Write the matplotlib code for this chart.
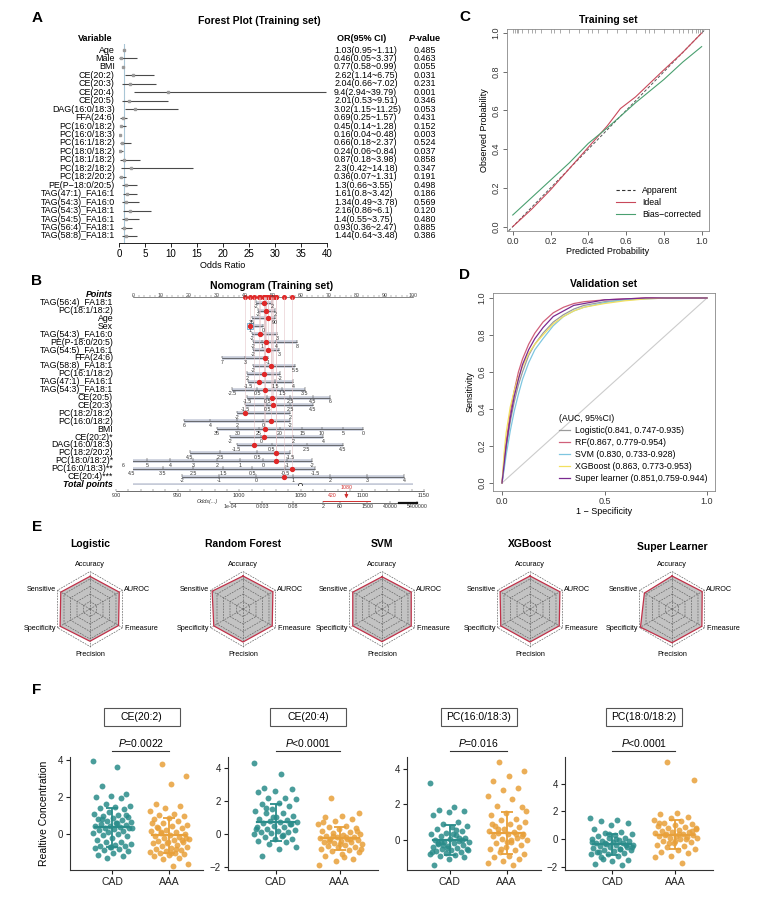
import numpy as np
import matplotlib
matplotlib.use("Agg")
import matplotlib.pyplot as plt
from matplotlib.lines import Line2D
from matplotlib.patches import Rectangle
from matplotlib.transforms import blended_transform_factory

plt.rcParams['font.family'] = ['Liberation Sans', 'DejaVu Sans']
plt.rcParams['mathtext.fontset'] = 'custom'
plt.rcParams['mathtext.rm'] = 'Liberation Sans'
plt.rcParams['mathtext.it'] = 'Liberation Sans:italic'
plt.rcParams['axes.linewidth'] = 0.6

# ---------------- data ----------------
# A: forest plot
fa_vars = ['Age', 'Male', 'BMI', 'CE(20:2)', 'CE(20:3)', 'CE(20:4)', 'CE(20:5)',
           'DAG(16:0/18:3)', 'FFA(24:6)', 'PC(16:0/18:2)', 'PC(16:0/18:3)',
           'PC(16:1/18:2)', 'PC(18:0/18:2)', 'PC(18:1/18:2)', 'PC(18:2/18:2)',
           'PC(18:2/20:2)', 'PE(P\u221218:0/20:5)', 'TAG(47:1)_FA16:1',
           'TAG(54:3)_FA16:0', 'TAG(54:3)_FA18:1', 'TAG(54:5)_FA16:1',
           'TAG(56:4)_FA18:1', 'TAG(58:8)_FA18:1']
fa_or = [1.03, 0.46, 0.77, 2.62, 2.04, 9.4, 2.01, 3.02, 0.69, 0.45, 0.16, 0.66,
         0.24, 0.87, 2.3, 0.36, 1.3, 1.61, 1.34, 2.16, 1.4, 0.93, 1.44]
fa_lo = [0.95, 0.05, 0.58, 1.14, 0.66, 2.94, 0.53, 1.15, 0.25, 0.14, 0.04, 0.18,
         0.06, 0.18, 0.42, 0.07, 0.66, 0.8, 0.49, 0.86, 0.55, 0.36, 0.64]
fa_hi = [1.11, 3.37, 0.99, 6.75, 7.02, 39.79, 9.51, 11.25, 1.57, 1.28, 0.48, 2.37,
         0.84, 3.98, 14.18, 1.31, 3.55, 3.42, 3.78, 6.1, 3.75, 2.47, 3.48]
fa_p = ['0.485', '0.463', '0.055', '0.031', '0.231', '0.001', '0.346', '0.053',
        '0.431', '0.152', '0.003', '0.524', '0.037', '0.858', '0.347', '0.191',
        '0.498', '0.186', '0.569', '0.120', '0.480', '0.885', '0.386']

# B: nomogram rows (label, tick labels, tick positions in points, point of the case)
nom_rows = [
    ('TAG(56:4)_FA18:1', ['-2', '2'], [43.9, 49.6], 46.8),
    ('PC(18:1/18:2)', ['-2', '2'], [44.6, 50.7], 47.4),
    ('Age', ['35', '90'], [42.5, 50.7], 48.2),
    ('Sex', ['1', '0'], [41.8, 46.4], 41.8),
    ('TAG(54:3)_FA16:0', ['-2', '3'], [42.5, 51.4], 45.4),
    ('PE(P-18:0/20:5)', ['-2', '1', '4', '8'], [42.9, 46.1, 51.1, 58.6], 47.5),
    ('TAG(54:5)_FA16:1', ['-2', '3'], [42.9, 52.1], 48.2),
    ('FFA(24:6)', ['7', '3', '-1'], [31.8, 40.0, 48.2], 47.1),
    ('TAG(58:8)_FA18:1', ['-2', '5.5'], [42.9, 57.9], 49.3),
    ('PC(16:1/18:2)', ['2', '-2'], [40.7, 52.5], 46.8),
    ('TAG(47:1)_FA16:1', ['-1.5', '1.5', '4'], [41.1, 50.7, 57.1], 45.0),
    ('TAG(54:3)_FA18:1', ['-2.5', '0.5', '1.5', '3.5'], [35.4, 44.3, 53.2, 61.4], 47.1),
    ('CE(20:5)', ['-1.5', '0.5', '2.5', '4.5', '6'], [40.7, 47.9, 56.1, 64.3, 70.4], 49.6),
    ('CE(20:3)', ['-1.5', '0.5', '2.5', '4.5'], [40.0, 47.9, 56.1, 64.3], 50.0),
    ('PC(18:2/18:2)', ['-2', '2'], [37.1, 56.1], 40.0),
    ('PC(16:0/18:2)', ['6', '4', '2', '0', '-2'], [18.2, 27.5, 37.1, 46.4, 56.1], 49.3),
    ('BMI', ['35', '30', '25', '20', '15', '10', '5', '0'],
     [30.0, 37.5, 45.0, 52.5, 60.4, 67.5, 75.0, 82.1], 47.1),
    ('CE(20:2)*', ['-2', '0', '2', '4'], [34.6, 45.7, 57.1, 67.9], 46.8),
    ('DAG(16:0/18:3)', ['-1.5', '0.5', '2.5', '4.5'], [37.1, 49.6, 62.1, 75.0], 43.2),
    ('PC(18:2/20:2)', ['4.5', '2.5', '0.5', '-1.5'], [20.4, 31.1, 44.3, 56.1], 51.1),
    ('PC(18:0/18:2)*', ['6', '5', '4', '3', '2', '1', '0', '-1', '-2'],
     [-3.6, 5.0, 13.2, 21.4, 30.0, 38.2, 46.4, 55.0, 63.9], 51.1),
    ('PC(16:0/18:3)**', ['4.5', '3.5', '2.5', '1.5', '0.5', '-0.5', '-1.5'],
     [-0.4, 10.7, 21.4, 32.1, 42.5, 54.3, 65.0], 56.8),
    ('CE(20:4)***', ['-2', '-1', '0', '1', '2', '3', '4'],
     [17.5, 30.7, 44.0, 57.1, 70.4, 83.6, 96.8], 53.9),
]
total_ticks = [900, 950, 1000, 1050, 1100, 1150]
total_case = 1087
odds_labels = ['1e-04', '0.003', '0.08', '2', '60', '1500', '40000', '5400000']
odds_pos = [34.6, 46.1, 57.1, 67.9, 73.9, 83.6, 91.8, 101.4]

# C: calibration
cal_x = [0.0, 0.1, 0.2, 0.3, 0.4, 0.5, 0.57, 0.65, 0.8, 0.9, 1.0]
cal_ideal = [0.0, 0.09, 0.19, 0.30, 0.41, 0.52, 0.61, 0.67, 0.81, 0.90, 1.0]
cal_bias = [0.06, 0.15, 0.24, 0.33, 0.43, 0.51, 0.57, 0.64, 0.76, 0.85, 0.93]
rug_x = [0.0, 0.01, 0.02, 0.03, 0.05, 0.08, 0.1, 0.12, 0.15, 0.2, 0.22, 0.25, 0.3,
         0.35, 0.4, 0.42, 0.45, 0.5, 0.55, 0.6, 0.65, 0.7, 0.72, 0.75, 0.8, 0.85,
         0.88, 0.9, 0.93, 0.95, 0.97, 0.98, 0.99, 1.0]

# D: ROC curves
roc_fpr = [0, 0.01, 0.02, 0.04, 0.06, 0.08, 0.1, 0.13, 0.16, 0.2, 0.25, 0.3, 0.35,
           0.4, 0.5, 0.6, 0.7, 0.8, 1.0]
roc_logistic = [0, 0.09, 0.18, 0.33, 0.44, 0.53, 0.60, 0.69, 0.75, 0.81, 0.87, 0.91,
                0.94, 0.96, 0.98, 0.99, 1.0, 1.0, 1.0]
roc_rf = [0, 0.12, 0.22, 0.38, 0.50, 0.60, 0.67, 0.75, 0.81, 0.87, 0.92, 0.95, 0.97,
          0.98, 0.99, 0.995, 1.0, 1.0, 1.0]
roc_svm = [0, 0.07, 0.15, 0.28, 0.39, 0.48, 0.56, 0.65, 0.72, 0.78, 0.85, 0.90, 0.93,
           0.95, 0.975, 0.99, 0.995, 1.0, 1.0]
roc_xgb = [0, 0.16, 0.27, 0.41, 0.50, 0.57, 0.63, 0.70, 0.75, 0.80, 0.86, 0.90, 0.93,
           0.95, 0.97, 0.985, 0.995, 1.0, 1.0]
roc_super = [0, 0.10, 0.20, 0.35, 0.47, 0.56, 0.64, 0.72, 0.78, 0.84, 0.90, 0.93, 0.96,
             0.97, 0.99, 0.995, 1.0, 1.0, 1.0]
roc_names = ['Logistic(0.841, 0.747-0.935)', 'RF(0.867, 0.779-0.954)',
             'SVM (0.830, 0.733-0.928)', 'XGBoost (0.863, 0.773-0.953)',
             'Super learner (0.851,0.759-0.944)']

# E: radar
radar_models = ['Logistic', 'Random Forest', 'SVM', 'XGBoost', 'Super Learner']
radar_metrics = ['Accuracy', 'AUROC', 'F.measure', 'Precision', 'Specificity', 'Sensitive']
radar_vals = [
    [0.87, 0.90, 0.88, 0.86, 0.92, 0.90],
    [0.88, 0.92, 0.90, 0.88, 0.90, 0.95],
    [0.86, 0.90, 0.90, 0.87, 0.90, 0.90],
    [0.88, 0.92, 0.90, 0.88, 0.90, 0.92],
    [0.88, 0.93, 0.92, 0.90, 0.97, 0.85],
]

# F: relative concentration
f_titles = ['CE(20:2)', 'CE(20:4)', 'PC(16:0/18:3)', 'PC(18:0/18:2)']
f_pvals = ['$\\it{P}$=0.0022', '$\\it{P}$<0.0001', '$\\it{P}$=0.016', '$\\it{P}$<0.0001']
f_cad = [
    [3.95, 3.6, 2.6, 2.15, 2.05, 2.0, 1.95, 1.6, 1.5, 1.45, 1.4, 1.35, 1.2, 1.1, 1.05,
     0.95, 0.9, 0.85, 0.8, 0.75, 0.7, 0.65, 0.6, 0.55, 0.5, 0.45, 0.45, 0.4, 0.35, 0.3,
     0.25, 0.2, 0.15, 0.1, 0.05, 0.0, -0.05, -0.1, -0.2, -0.3, -0.4, -0.45, -0.55, -0.6,
     -0.65, -0.65, -0.7, -0.75, -0.8, -0.85, -0.9, -1.0, -1.1, -1.2, -1.3, 0.3, 0.6, 0.8,
     1.0, -0.7],
    [4.3, 3.6, 2.75, 2.7, 2.6, 2.55, 2.2, 2.2, 2.1, 1.9, 1.8, 1.7, 1.5, 1.4, 1.3, 1.25,
     1.1, 1.0, 0.9, 0.85, 0.8, 0.75, 0.7, 0.65, 0.6, 0.5, 0.45, 0.4, 0.3, 0.25, 0.2,
     0.15, 0.1, 0.05, 0.0, -0.1, -0.2, -0.3, -0.3, -0.4, -0.5, -0.6, -0.8, -0.9, -1.3,
     0.6, 1.0, 0.3, -0.05, 1.6],
    [3.2, 1.85, 1.7, 1.6, 1.55, 1.4, 1.0, 0.9, 0.8, 0.7, 0.6, 0.5, 0.4, 0.3, 0.25, 0.2,
     0.1, 0.05, 0.0, -0.05, -0.1, -0.15, -0.2, -0.25, -0.3, -0.35, -0.4, -0.45, -0.5,
     -0.55, -0.6, -0.65, -0.7, -0.75, -0.8, -0.85, -0.9, -1.0, -1.1, -1.4, 0.1, -0.3,
     -0.6, 0.35, -0.2, 0.0, -0.45, -0.7, 0.55, -0.1],
    [1.5, 1.4, 1.3, 1.2, 1.0, 0.7, 0.5, 0.45, 0.35, 0.3, 0.2, 0.1, 0.05, 0.0, -0.05,
     -0.1, -0.15, -0.2, -0.25, -0.3, -0.35, -0.4, -0.45, -0.5, -0.55, -0.6, -0.65, -0.7,
     -0.75, -0.8, -0.85, -0.9, -1.0, -1.05, -1.1, -1.2, -1.3, -1.5, -1.6, -1.8, -1.9,
     -0.3, -0.6, 0.0, -0.9, -0.4, 0.4, -0.2, -0.7, -1.4],
]
f_aaa = [
    [3.75, 3.1, 2.7, 1.6, 1.5, 1.4, 1.25, 1.1, 1.0, 0.95, 0.85, 0.8, 0.7, 0.6, 0.5,
     0.45, 0.4, 0.3, 0.2, 0.15, 0.1, 0.05, 0.0, -0.05, -0.1, -0.15, -0.2, -0.25, -0.3,
     -0.35, -0.4, -0.45, -0.5, -0.6, -0.65, -0.7, -0.75, -0.8, -0.85, -0.9, -0.95, -1.0,
     -1.0, -1.05, -1.1, -1.2, -1.3, -1.35, -1.6, -1.7, 0.35, -0.3, -0.5, 0.6, -0.8, 0.1,
     -0.2, -1.0],
    [2.2, 1.3, 1.1, 1.05, 0.9, 0.8, 0.6, 0.5, 0.4, 0.35, 0.3, 0.2, 0.1, 0.05, 0.0,
     -0.05, -0.1, -0.15, -0.2, -0.25, -0.3, -0.3, -0.35, -0.4, -0.45, -0.5, -0.55, -0.6,
     -0.65, -0.7, -0.75, -0.8, -0.9, -0.95, -1.0, -1.1, -1.2, -1.3, -1.5, -1.6, -1.85,
     -0.2, -0.4, 0.2, -0.6, 0.7, -0.3, -0.1, -0.9, -1.4],
    [4.4, 3.9, 3.6, 3.3, 2.9, 2.8, 2.5, 2.3, 1.9, 1.85, 1.5, 1.4, 1.2, 1.1, 1.0, 0.9,
     0.8, 0.7, 0.6, 0.5, 0.45, 0.4, 0.35, 0.3, 0.2, 0.1, 0.05, 0.0, -0.1, -0.2, -0.3,
     -0.4, -0.5, -0.6, -0.7, -0.8, -0.9, -1.0, -1.1, -1.2, -1.3, -1.4, 0.6, 0.2, -0.1,
     0.9, 0.3, -0.5, 1.6, 0.0],
    [5.6, 4.3, 1.9, 1.8, 1.6, 1.5, 1.4, 1.3, 1.2, 1.1, 1.0, 0.95, 0.9, 0.8, 0.7, 0.65,
     0.6, 0.55, 0.5, 0.45, 0.4, 0.35, 0.3, 0.25, 0.2, 0.15, 0.1, 0.05, 0.0, -0.1, -0.2,
     -0.3, -0.4, -0.5, -0.6, -0.7, -0.8, -0.9, -1.0, -1.2, -1.3, -1.7, 0.3, 0.6, -0.1,
     1.2, 0.0, -0.3, 0.8, 0.4],
]
f_mean_cad = [0.37, 0.70, -0.02, -0.37]
f_sd_cad = [1.04, 1.13, 0.83, 0.75]
f_mean_aaa = [-0.07, -0.26, 0.39, 0.33]
f_sd_aaa = [0.95, 0.70, 1.18, 1.04]

# ---------------- figure ----------------
W, H = 763, 902
fig = plt.figure(figsize=(W / 100, H / 100), dpi=100)


def box(x0, y0, x1, y1):
    return [x0 / W, 1 - y1 / H, (x1 - x0) / W, (y1 - y0) / H]


def ftext(x, y, s, **kw):
    fig.text(x / W, 1 - y / H, s, **kw)


for lab, x, y in [('A', 37, 18), ('B', 37, 281), ('C', 465, 17), ('D', 465, 275),
                  ('E', 37, 527), ('F', 37, 690)]:
    ftext(x, y, lab, fontsize=11, fontweight='bold', va='center', ha='center')

# ---- A forest plot ----
axA = fig.add_axes(box(119, 44, 327, 243))
rows = np.arange(len(fa_vars))
axA.axvline(1, color='#a9c6d6', lw=0.8)
axA.hlines(rows, fa_lo, fa_hi, color='#4a4a4a', lw=0.8)
axA.plot(fa_or, rows, 's', ms=1.6, color='#9a9a9a')
axA.set_xlim(0, 40)
axA.set_ylim(22.83, -0.71)
for s in ['top', 'right', 'left']:
    axA.spines[s].set_visible(False)
axA.set_yticks([])
axA.set_xticks(np.arange(0, 41, 5))
axA.tick_params(axis='x', labelsize=7, length=3, width=0.6, pad=1.5)
axA.set_xlabel('Odds Ratio', fontsize=6.5, labelpad=1)
for i, v in enumerate(fa_vars):
    axA.text(-0.8, i, v, ha='right', va='center', fontsize=6.4)
    axA.text(41.35, i, f"{fa_or[i]:g}({fa_lo[i]:g}~{fa_hi[i]:g})", ha='left',
             va='center', fontsize=6.4)
    axA.text(56.6, i, fa_p[i], ha='left', va='center', fontsize=6.4)
axA.text(-4.6, -1.35, 'Variable', ha='center', va='center', fontsize=6.5, fontweight='bold')
axA.text(46.7, -1.35, 'OR(95% CI)', ha='center', va='center', fontsize=6.5, fontweight='bold')
axA.text(56.9, -1.35, 'P', ha='right', va='center', fontsize=6.5, fontweight='bold',
         style='italic')
axA.text(56.9, -1.35, '-value', ha='left', va='center', fontsize=6.5, fontweight='bold')
ftext(259, 21, 'Forest Plot (Training set)', fontsize=7.5, fontweight='bold',
      ha='center', va='center')

# ---- B nomogram ----
axB = fig.add_axes(box(133, 294.7, 413, 484.5))
axB.set_xlim(0, 100)
axB.set_ylim(24, 0)
axB.axis('off')
ftext(272, 286, 'Nomogram (Training set)', fontsize=7.5, fontweight='bold',
      ha='center', va='center')
# points scale
axB.plot([0, 100], [0.3, 0.3], color='#555555', lw=0.5, clip_on=False)
axB.vlines(np.arange(0, 101, 2), 0.3, 0.05, color='#555555', lw=0.3, clip_on=False)
for t in range(0, 101, 10):
    axB.text(t, 0.1, str(t), fontsize=3.8, ha='center', va='center', color='#444444')
axB.text(-7.1, 0, 'Points', ha='right', va='center', fontsize=6.4, fontweight='bold',
         style='italic')
dots = [r[3] for r in nom_rows]
axB.plot(dots, [0.3] * len(dots), 'o', ms=2.6, color='#e02828', clip_on=False)
for k, (lab, tl, tp, dp) in enumerate(nom_rows):
    r = k + 1
    axB.vlines(dp, 0.3, r, color='#e4c4c8', lw=0.4)
    lo, hi = min(tp), max(tp)
    axB.plot([lo, hi], [r, r], color='#b8bfcf', lw=2.6, alpha=0.8, solid_capstyle='butt')
    axB.plot([lo, hi], [r, r], color='#333333', lw=0.45)
    axB.vlines(tp, r, r - 0.3, color='#333333', lw=0.35)
    for s, p in zip(tl, tp):
        axB.text(p, r + 0.55, s, fontsize=3.8, ha='center', va='center', color='#333333')
    axB.plot([dp], [r], 'o', ms=2.8, color='#e02828', zorder=5)
    axB.text(-7.1, r, lab, ha='right', va='center', fontsize=6.3)
sex_row = [row[0] for row in nom_rows].index('Sex') + 1
axB.plot([nom_rows[sex_row - 1][3]], [sex_row], 's', ms=5, mfc='none', mec='#7fb0d0',
         mew=0.7)
# total points
axB.plot([0, 100], [24, 24], color='#b8bfcf', lw=2.6, alpha=0.8)
axB.plot([0, 100], [24, 24], color='#333333', lw=0.45)
axB.plot([59.6], [24], 'o', ms=3, mfc='white', mec='#333333', mew=0.6)
axB.text(-7.1, 24, 'Total points', ha='right', va='center', fontsize=6.4,
         fontweight='bold', style='italic')


def tot2p(t):
    return -6.07 + (np.asarray(t, dtype=float) - 900) * 0.44


axB.plot(tot2p([900, 1150]), [24.8, 24.8], color='#333333', lw=0.5, clip_on=False)
axB.vlines(tot2p(np.arange(900, 1151, 10)), 24.8, 24.55, color='#333333', lw=0.3,
           clip_on=False)
for t in total_ticks:
    axB.text(tot2p(t), 25.35, str(t), fontsize=4, ha='center', va='center',
             color='#333333')
axB.plot([min(odds_pos), max(odds_pos)], [26.3, 26.3], color='#333333', lw=0.5,
         clip_on=False)
axB.vlines(odds_pos, 26.3, 26.05, color='#333333', lw=0.35, clip_on=False)
axB.plot([95, max(odds_pos)], [26.3, 26.3], color='#111111', lw=1.6, clip_on=False)
for s, p in zip(odds_labels, odds_pos):
    axB.text(p, 26.75, s, fontsize=3.8, ha='center', va='center', color='#333333')
axB.text(30.5, 26.2, 'Odds(...)', fontsize=4, ha='right', va='center', style='italic',
         color='#333333')
pc = float(tot2p(total_case))
axB.plot([67.9, 84.6], [26.1, 26.1], color='#d03030', lw=0.7, clip_on=False)
axB.annotate('', xy=(pc, 26.1), xytext=(pc, 24.6),
             arrowprops=dict(arrowstyle='-|>', color='#d03030', lw=0.7,
                             mutation_scale=5), annotation_clip=False)
axB.text(pc, 24.35, '1080', fontsize=3.8, color='#d03030', ha='center', va='center')
axB.text(pc - 3.5, 25.35, '420', fontsize=3.8, color='#d03030', ha='right', va='center')

# ---- C calibration ----
axC = fig.add_axes(box(506.7, 29, 709, 230.7))
axC.plot([-0.04, 1.04], [-0.04, 1.04], color='#555555', lw=0.7, ls=(0, (3, 2)))
axC.plot(cal_x, cal_ideal, color='#c8485a', lw=0.8)
axC.plot(cal_x, cal_bias, color='#4aa070', lw=0.8)
axC.vlines(rug_x, 1.0, 1.021, color='#888888', lw=0.5)
axC.set_xlim(-0.032, 1.039)
axC.set_ylim(-0.021, 1.021)
ticks = [0, 0.2, 0.4, 0.6, 0.8, 1.0]
axC.set_xticks(ticks)
axC.set_xticklabels([f"{t:.1f}" for t in ticks])
axC.set_yticks(ticks)
axC.set_yticklabels([f"{t:.1f}" for t in ticks], rotation=90, va='center')
axC.tick_params(labelsize=6.5, length=3, width=0.5, pad=1.5, colors='#333333')
for s in axC.spines.values():
    s.set_color('#888888')
axC.set_xlabel('Predicted Probability', fontsize=6.5, labelpad=1)
axC.set_ylabel('Observed Probability', fontsize=6.5, labelpad=2)
axC.set_title('Training set', fontsize=7.5, fontweight='bold', pad=4)
handles = [Line2D([], [], color='#333333', lw=0.8, ls=(0, (3, 2))),
           Line2D([], [], color='#c8485a', lw=0.8),
           Line2D([], [], color='#4aa070', lw=0.8)]
axC.legend(handles, ['Apparent', 'Ideal', 'Bias\u2212corrected'], loc='lower right',
           bbox_to_anchor=(1.0, 0.02), frameon=False, fontsize=6.3, handlelength=2.2,
           labelspacing=0.35)

# ---- D ROC ----
axD = fig.add_axes(box(493, 293, 715, 490.7))
axD.plot([0, 1], [0, 1], color='#cccccc', lw=0.8)
roc_cols = ['#9a9a9a', '#d0607a', '#7ec6e0', '#f2e060', '#7a2a90']
for y, c, n in zip([roc_logistic, roc_rf, roc_svm, roc_xgb, roc_super], roc_cols, roc_names):
    axD.plot(roc_fpr, y, color=c, lw=0.9, label=n)
axD.set_xlim(-0.044, 1.039)
axD.set_ylim(-0.042, 1.027)
axD.set_xticks([0, 0.5, 1.0])
axD.set_xticklabels(['0.0', '0.5', '1.0'])
axD.set_yticks(ticks)
axD.set_yticklabels([f"{t:.1f}" for t in ticks], rotation=90, va='center')
axD.tick_params(labelsize=6.5, length=3, width=0.5, pad=1.5, colors='#333333')
for s in axD.spines.values():
    s.set_color('#888888')
axD.set_xlabel('1 \u2212 Specificity', fontsize=6.5, labelpad=1)
axD.set_ylabel('Sensitivity', fontsize=6.5, labelpad=2)
axD.set_title('Validation set', fontsize=7.5, fontweight='bold', pad=4)
legD = axD.legend(loc='lower right', bbox_to_anchor=(1.0, 0.0), frameon=False,
                  fontsize=6.3, handlelength=1.3, handletextpad=0.5, labelspacing=0.35,
                  title='(AUC, 95%CI)', title_fontsize=6.3)
legD._legend_box.align = 'left'

# ---- E radar ----
radar_cx = [90, 243, 382, 530, 672]
ang = np.deg2rad([90, 30, -30, -90, -150, 150])
for m, (name, vals, cx) in enumerate(zip(radar_models, radar_vals, radar_cx)):
    ax = fig.add_axes(box(cx - 60, 609 - 60, cx + 60, 609 + 60))
    ax.set_xlim(-1.6, 1.6)
    ax.set_ylim(-1.6, 1.6)
    ax.axis('off')
    for lev in [0.2, 0.4, 0.6, 0.8, 1.0]:
        xs = np.append(lev * np.cos(ang), lev * np.cos(ang[0]))
        ys = np.append(lev * np.sin(ang), lev * np.sin(ang[0]))
        ax.plot(xs, ys, color='#666666', lw=0.5, ls=(0, (2.5, 1.5)))
    for a in ang:
        ax.plot([0, np.cos(a)], [0, np.sin(a)], color='#666666', lw=0.5, ls=(0, (2.5, 1.5)))
    v = np.array(vals)
    ax.fill(v * np.cos(ang), v * np.sin(ang), color='#b4b4b4', alpha=0.8, lw=0)
    ax.plot(np.append(v * np.cos(ang), v[0] * np.cos(ang[0])),
            np.append(v * np.sin(ang), v[0] * np.sin(ang[0])), color='#c03048', lw=0.9)
    for lab, a in zip(radar_metrics, ang):
        ca, sa = np.cos(a), np.sin(a)
        if abs(ca) < 0.1:
            ax.text(0, 1.2 * np.sign(sa), lab, fontsize=5.2, ha='center', va='center')
        else:
            ax.text(1.05 * ca, 1.05 * sa, lab, fontsize=5.2, va='center',
                    ha='left' if ca > 0 else 'right')
    ty = 1.74 if m < 4 else 1.66
    ax.text(0, ty, name, fontsize=7.5, fontweight='bold', ha='center', va='center')

# ---- F scatter ----
f_boxes = [(70, 203), (228, 378), (407, 541), (565, 713)]
f_ylims = [(-1.93, 4.14), (-2.16, 4.64), (-1.71, 4.68), (-2.23, 5.94)]
f_yticks = [[0, 2, 4], [-2, 0, 2, 4], [0, 2, 4], [-2, 0, 2, 4]]
col_cad, col_aaa = '#2a8c8a', '#e8a03a'
for k in range(4):
    x0, x1 = f_boxes[k]
    ax = fig.add_axes(box(x0, 757, x1, 870))
    for g, (vals, col, mu, sd) in enumerate([(f_cad[k], col_cad, f_mean_cad[k], f_sd_cad[k]),
                                             (f_aaa[k], col_aaa, f_mean_aaa[k], f_sd_aaa[k])]):
        n = len(vals)
        jit = ((np.arange(n) * 0.6180339 + 0.31 * g) % 1 - 0.5) * 0.7
        ax.scatter(g + jit, vals, s=18, color=col, alpha=0.85, lw=0, zorder=2)
        ax.plot([g - 0.3, g + 0.3], [mu, mu], color=col, lw=1.6, zorder=3)
        ax.errorbar([g], [mu], yerr=[[sd], [sd]], color=col, lw=1.3, capsize=4,
                    capthick=1.3, zorder=3)
    ax.set_xlim(-0.75, 1.6)
    ax.set_ylim(*f_ylims[k])
    ax.set_yticks(f_yticks[k])
    ax.set_xticks([0, 1])
    ax.set_xticklabels(['CAD', 'AAA'])
    ax.tick_params(labelsize=7, length=3, width=0.8, pad=2, colors='#222222')
    ax.tick_params(axis='x', labelsize=7.5)
    for s in ['top', 'right']:
        ax.spines[s].set_visible(False)
    for s in ['left', 'bottom']:
        ax.spines[s].set_linewidth(0.8)
        ax.spines[s].set_color('#333333')
    if k == 0:
        ax.set_ylabel('Realtive Concentration', fontsize=7.5, labelpad=6)
    tr = blended_transform_factory(ax.transData, ax.transAxes)
    ax.plot([0, 1], [1.05, 1.05], color='#333333', lw=0.8, transform=tr, clip_on=False)
    ax.text(0.5, 1.12, f_pvals[k], transform=tr, ha='center', va='center', fontsize=7.5)
    cxp = (x0 + x1) / 2 + 5
    fig.patches.append(Rectangle(((cxp - 38) / W, 1 - 726 / H), 76 / W, 18 / H,
                                 transform=fig.transFigure, fill=False, ec='#555555',
                                 lw=0.8))
    ftext(cxp, 717, f_titles[k], fontsize=7.5, ha='center', va='center')

fig.savefig('out.png', dpi=100)
